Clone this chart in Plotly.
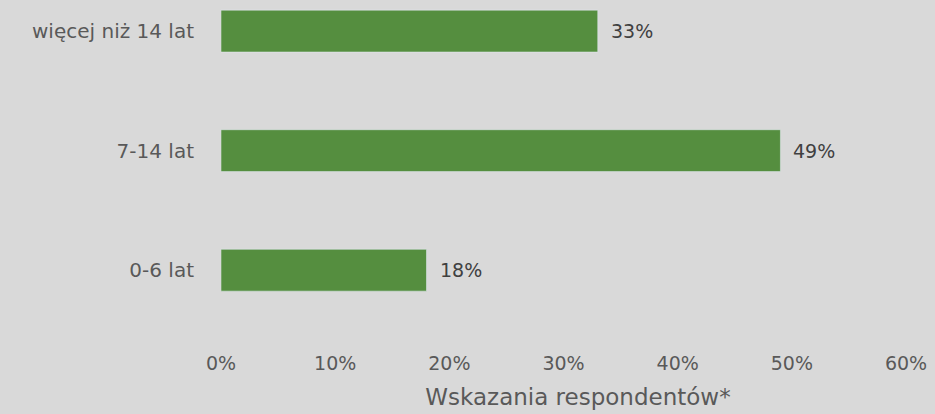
import plotly.graph_objects as go

# Data
categories = ['0-6 lat', '7-14 lat', 'więcej niż 14 lat']
shares = [0.18, 0.49, 0.33]
labels = ['18%', '49%', '33%']
tick_vals = [0, 0.1, 0.2, 0.3, 0.4, 0.5, 0.6]
tick_text = ['0%', '10%', '20%', '30%', '40%', '50%', '60%']

font_family = 'Century Gothic, DejaVu Sans, sans-serif'

fig = go.Figure()

fig.add_trace(
    go.Bar(
        x=shares,
        y=categories,
        orientation='h',
        width=0.35,
        marker=dict(color='#558E3F'),
        hoverinfo='skip'
    )
)

# value labels next to the bar ends
for share, cat, lab in zip(shares, categories, labels):
    fig.add_annotation(
        x=share,
        y=cat,
        text=lab,
        showarrow=False,
        xanchor='left',
        xshift=11,
        font=dict(family=font_family, size=19, color='#404040')
    )

fig.update_xaxes(
    range=[0, 0.6254],
    tickvals=tick_vals,
    ticktext=tick_text,
    tickfont=dict(family=font_family, size=19, color='#595959'),
    showgrid=False,
    zeroline=False,
    showline=False,
    automargin=False,
    ticks='outside',
    ticklen=16,
    tickcolor='rgba(0,0,0,0)',
    title=dict(
        text='Wskazania respondentów*',
        font=dict(family=font_family, size=23, color='#595959'),
        standoff=16
    )
)

fig.update_yaxes(
    range=[-0.5, 2.26],
    tickfont=dict(family=font_family, size=20, color='#595959'),
    showgrid=False,
    zeroline=False,
    showline=False,
    automargin=False,
    ticks='outside',
    ticklen=22,
    tickcolor='rgba(0,0,0,0)'
)

fig.update_layout(
    width=935,
    height=414,
    margin=dict(l=221, r=0, t=0, b=84),
    paper_bgcolor='#D9D9D9',
    plot_bgcolor='#D9D9D9',
    showlegend=False
)

fig.write_html(
    "out.html",
    config={'displayModeBar': False},
    post_script="document.body.style.margin='0';"
)
